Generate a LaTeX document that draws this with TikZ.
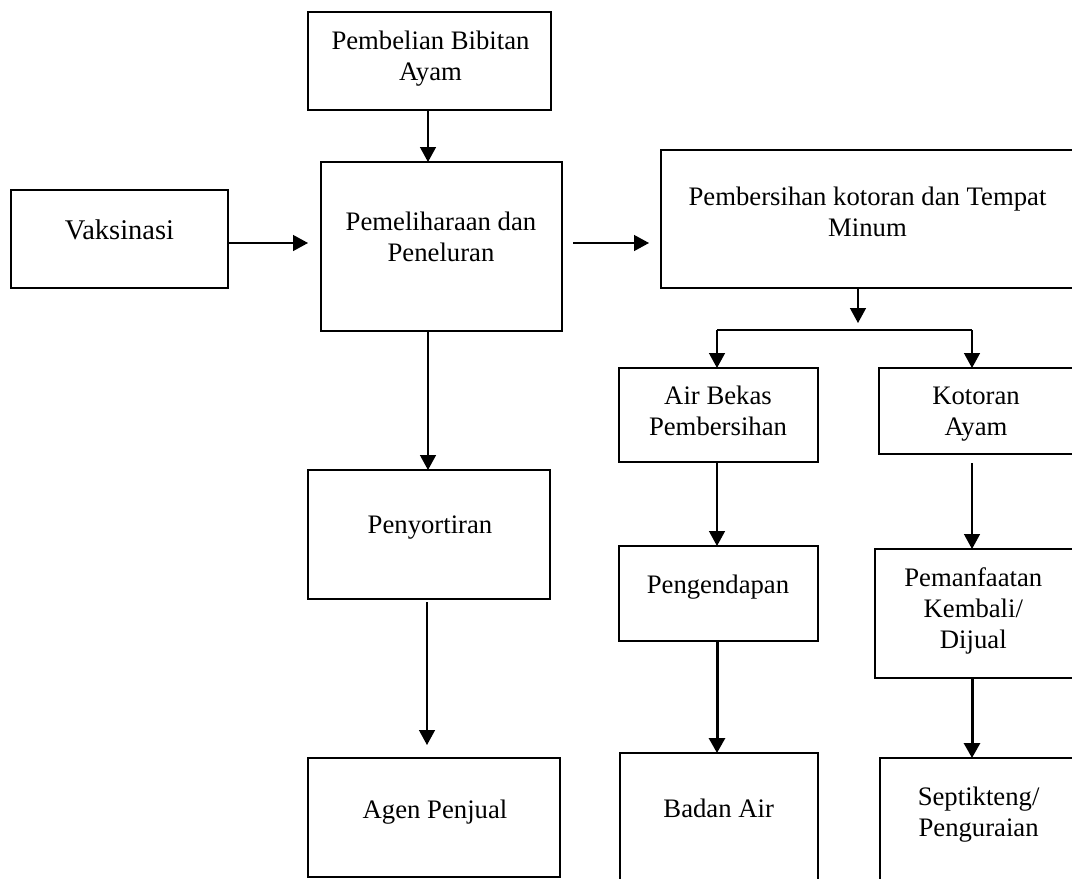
\documentclass[tikz,border=0pt]{standalone}
\usepackage{fontspec}
\setmainfont{Liberation Serif}
\usetikzlibrary{arrows.meta}
\begin{document}
\begin{tikzpicture}[x=1pt,y=-1pt,
  box/.style={draw, line width=2.7pt, rectangle, inner sep=0pt, outer sep=0pt},
  txt/.style={font=\fontsize{26.7}{31}\selectfont, align=center, anchor=base, inner sep=0pt},
  flow/.style={line width=1.4pt, -{Triangle[length=15pt,width=16pt]}},
  heavy/.style={line width=3pt, -{Triangle[length=15pt,width=16pt]}}]
\clip (0,0) rectangle (1072,879);

% process boxes
\node[box, minimum width=243pt, minimum height=98pt]  (buy)   at (429.5,61)   {};
\node[box, minimum width=217pt, minimum height=98pt]  (vak)   at (119.5,239)  {};
\node[box, minimum width=241pt, minimum height=169pt] (pem)   at (441.5,246.5) {};
\node[box, minimum width=415pt, minimum height=138pt] (clean) at (868.5,219)  {};
\node[box, minimum width=199pt, minimum height=94pt]  (air)   at (718.5,415)  {};
\node[box, minimum width=197pt, minimum height=86pt]  (kot)   at (977.5,411)  {};
\node[box, minimum width=242pt, minimum height=129pt] (sort)  at (429,534.5)  {};
\node[box, minimum width=252pt, minimum height=119pt] (agen)  at (434,817.5)  {};
\node[box, minimum width=199pt, minimum height=95pt]  (peng)  at (718.5,593.5) {};
\node[box, minimum width=198pt, minimum height=137pt] (badan) at (719,821.5)  {};
\node[box, minimum width=201pt, minimum height=129pt] (manf)  at (975.5,613.5) {};
\node[box, minimum width=196pt, minimum height=132pt] (sept)  at (978,824)    {};

% box captions (anchored on the baseline of the last line)
\node[txt] (tbuy)   at (430.5,80)  {Pembelian Bibitan\\Ayam};
\node[txt, font=\fontsize{28.5}{31}\selectfont] (tvak) at (119.5,239) {Vaksinasi};
\node[txt] (tpem)   at (441,261.5) {Pemeliharaan dan\\Peneluran};
\node[txt] (tclean) at (867.5,236.5) {Pembersihan kotoran dan Tempat\\Minum};
\node[txt] (tair)   at (718,435)   {Air Bekas\\Pembersihan};
\node[txt] (tkot)   at (976,435)   {Kotoran\\Ayam};
\node[txt] (tsort)  at (430,533)   {Penyortiran};
\node[txt] (tagen)  at (435,818)   {Agen Penjual};
\node[txt] (tpeng)  at (718,593)   {Pengendapan};
\node[txt] (tbadan) at (718.7,817) {Badan Air};
\node[txt] (tmanf)  at (973.3,648) {Pemanfaatan\\Kembali/\\Dijual};
\node[txt] (tsept)  at (978.6,836.5) {Septikteng/\\Penguraian};

% branching points
\coordinate (split) at (858,330);
\coordinate (bl) at (717,330);
\coordinate (br) at (972,330);

% connectors
\draw[flow] (buy.south -| 428,0) -- (pem.north -| 428,0);
\draw[flow, shorten >=13pt] (vak.east |- 0,243) -- (pem.west |- 0,243);
\draw[flow, shorten <=11pt, shorten >=12pt] (pem.east |- 0,243) -- (clean.west |- 0,243);
\draw[flow, shorten >=7pt] (clean.south -| split) -- (split);
\draw[line width=1.4pt] (bl) -- (br);
\draw[flow] (bl) -- (air.north -| bl);
\draw[flow] (br) -- (kot.north -| br);
\draw[flow] (air.south -| bl) -- (peng.north -| bl);
\draw[flow, shorten <=9pt] (kot.south -| br) -- (manf.north -| br);
\draw[heavy] (peng.south -| bl) -- (badan.north -| bl);
\draw[heavy] (manf.south -| br) -- (sept.north -| br);
\draw[flow] (pem.south -| 428,0) -- (sort.north -| 428,0);
\draw[flow, shorten <=3pt, shorten >=13pt] (sort.south -| 427,0) -- (agen.north -| 427,0);
\end{tikzpicture}
\end{document}
